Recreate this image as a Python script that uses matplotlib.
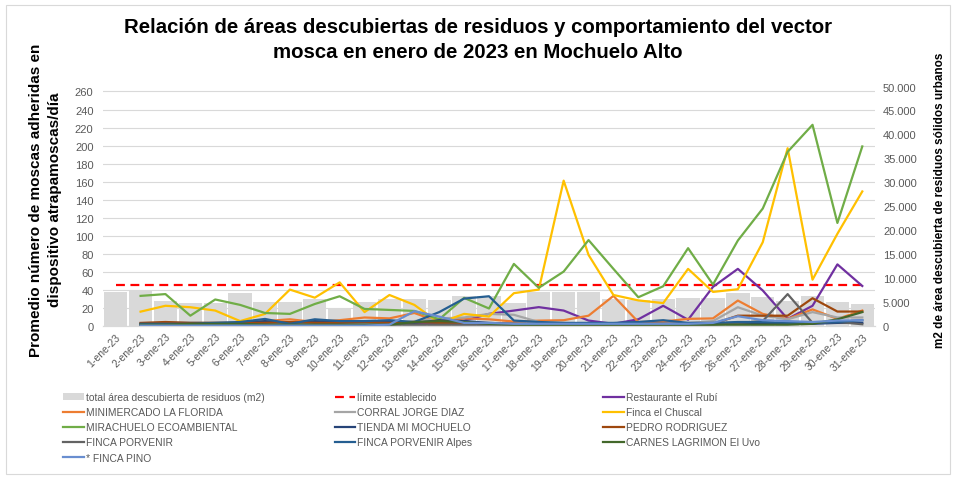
import numpy as np
import matplotlib
matplotlib.use("Agg")
import matplotlib.pyplot as plt
from matplotlib.ticker import FuncFormatter
from matplotlib.patches import Rectangle

plt.rcParams['font.family'] = ['Liberation Sans Narrow', 'Liberation Sans', 'DejaVu Sans']

nan = np.nan
dias = ['%d-ene-23' % d for d in range(1, 32)]

# m2 de area descubierta (eje derecho)
area_total = [7110, 7320, 5230, 4750, 4750, 6780, 5020, 5020, 5520, 3640, 5020,
              5520, 5580, 5450, 6100, 6150, 4800, 7110, 7110, 7110, 5500, 5300,
              5580, 5850, 5860, 6840, 5940, 5230, 6280, 4900, 4540]
limite = [45] * 31

rubi = [nan, 1, 1, 1, 1, 1, 1, 2, 2, 2, 2, 2, 2, 3, 5.5, 13, 16.7, 20.5, 16.7,
        5.6, 2, 7, 22, 6.5, 43, 63, 39, 7.4, 22, 68, 44]
minimercado = [nan, 2, 3, 2, 2, 3, 5, 7, 4, 6, 9, 8, 14, 4, 8, 7, 4.5, 5.5, 6,
               11, 33, 4, 4.5, 7.5, 8, 27.8, 13, 7.4, 18, 7.4, 16.7]
corral = [nan, 2, 2, 2, 1, 1, 2, 3, 2, 2, 3, 2, 5, 8, 9, 13, 12, 4, 3, 2, 2, 2,
          2, 3, 5, 20.4, 11, 7, 15, 9, 9]
chuscal = [nan, 15.5, 22, 20.4, 16.7, 5, 13, 40, 31, 48, 15, 34, 23, 3, 13, 10,
           36, 40, 161, 78.5, 34, 28, 25, 63, 37.4, 40.4, 92.6, 197, 51, 102, 149]
mirachuelo = [nan, 33, 35, 11, 29, 23, 14, 13, 24, 32.6, 18.5, 17.4, 16.3, 7,
              30.8, 19, 68.5, 42, 60, 95, 63, 31.5, 43.7, 86, 45.6, 94.5, 130,
              193, 223, 114, 199]
tienda = [nan, 2, 3, 3, 3, 3, 5, 3, 5, 4, 5, 4, 3, 6, 5, 3, 2, 2, 2, 2, 2, 2, 2,
          2, 2, 3, 3, 2, 2, 3, 3]
pedro = [nan, 3, 4, 3, 3, 3, 3, 4, 3, 3, 4, 3, 4, 3, 2, 2, 2, 2, 2, 2, 2, 2, 2,
         2, 2, 11, 11, 11, 30.4, 15.6, 15.6]
porvenir = [nan, 1, 1, 1, 1, 1, 1, 1, 1, 1, 1, 1, 1, 1, 1, 1, 1, 1, 1, 1, 1, 1,
            1, 1, 1, 3, 5, 35, 3, 4, 1.5]
porvenir_alpes = [nan, 2, 2, 2, 3, 4, 7.4, 2, 7, 5, 5, 6, 4, 15, 30, 32.6, 5.6,
                  4, 3, 3, 3, 4, 6, 3, 3, 4, 4, 3, 3, 4, 6]
carnes = [nan, 1, 1, 2, 2, 2, 1, 1, 1, 1, 1, 1, 4, 5, 4, 2, 1, 1, 1, 1, 1, 1, 1,
          1, 1, 1, 1, 1, 2, 7, 15]
pino = [nan, 0, 0, 0, 0, 0, 0, 0, 0, 0, 0, 1, 16, 10, 3, 3, 2, 2, 2, 2, 2, 2, 2,
        2, 3, 10.4, 6, 5, 4, 5.6, 6]

series = [
    ('Restaurante el Rubí', rubi, '#7030A0'),
    ('MINIMERCADO LA FLORIDA', minimercado, '#ED7D31'),
    ('CORRAL JORGE DIAZ', corral, '#A5A5A5'),
    ('Finca el Chuscal', chuscal, '#FFC000'),
    ('MIRACHUELO ECOAMBIENTAL', mirachuelo, '#70AD47'),
    ('TIENDA MI MOCHUELO', tienda, '#264478'),
    ('PEDRO RODRIGUEZ', pedro, '#9E480E'),
    ('FINCA PORVENIR', porvenir, '#636363'),
    ('FINCA PORVENIR Alpes', porvenir_alpes, '#255E91'),
    ('CARNES LAGRIMON El Uvo', carnes, '#43682B'),
    ('* FINCA PINO', pino, '#698ED0'),
]

fig = plt.figure(figsize=(9.56, 4.81), dpi=100)
fig.patches.append(Rectangle((0.006, 0.012), 0.988, 0.976, transform=fig.transFigure,
                             fill=False, edgecolor='#d9d9d9', lw=0.8))
ax = fig.add_axes([0.108, 0.321, 0.807, 0.497])
ax2 = ax.twinx()
x = np.arange(len(dias))

barras = ax2.bar(x, area_total, width=0.94, color='#d9d9d9',
                 label='total área descubierta de residuos (m2)')
ax2.set_ylim(0, 50000)
ax2.set_yticks(np.arange(0, 50001, 5000))
ax2.yaxis.set_major_formatter(FuncFormatter(lambda v, p: f"{int(v):,}".replace(",", ".")))

ax.set_zorder(ax2.get_zorder() + 1)
ax.patch.set_visible(False)

lim, = ax.plot(x, limite, color='#FF0000', lw=1.6, dashes=(4, 2.5), label='límite establecido')
handles = {}
for nombre, vals, col in series:
    l, = ax.plot(x, vals, color=col, lw=1.6, label=nombre)
    handles[nombre] = l

ax.set_ylim(0, 265.5)
ax.set_yticks(np.arange(0, 261, 20))
ax.set_xlim(-0.5, 30.5)
ax.set_xticks(x)
ax.set_xticklabels(dias, rotation=45, ha='right', rotation_mode='anchor')
ax.grid(axis='y', color='#d9d9d9', lw=0.8)
ax.set_axisbelow(True)

for a in (ax, ax2):
    for s in ('top', 'left', 'right'):
        a.spines[s].set_visible(False)
    a.spines['bottom'].set_color('#d9d9d9')
    a.tick_params(length=0, colors='#595959', labelsize=8)
ax.tick_params(axis='x', labelsize=7.5, pad=4)
ax.tick_params(axis='y', pad=7)
ax2.tick_params(axis='y', pad=6)

ax.set_ylabel('Promedio número de moscas adheridas en\ndispositivo atrapamoscas/día',
              fontsize=11, fontweight='bold', linespacing=1.45)
ax.yaxis.set_label_coords(-0.053, 0.53)
ax2.set_ylabel('m2 de área descubierta de residuos sólidos urbanos',
               fontsize=8.5, fontweight='bold')
ax2.yaxis.set_label_coords(1.077, 0.53)

fig.text(0.5, 0.916, 'Relación de áreas descubiertas de residuos y comportamiento del vector\n'
         'mosca en enero de 2023 en Mochuelo Alto', ha='center', va='center',
         fontsize=14.7, fontweight='bold', linespacing=1.4)

columnas = [
    [barras, handles['MINIMERCADO LA FLORIDA'], handles['MIRACHUELO ECOAMBIENTAL'],
     handles['FINCA PORVENIR'], handles['* FINCA PINO']],
    [lim, handles['CORRAL JORGE DIAZ'], handles['TIENDA MI MOCHUELO'],
     handles['FINCA PORVENIR Alpes']],
    [handles['Restaurante el Rubí'], handles['Finca el Chuscal'],
     handles['PEDRO RODRIGUEZ'], handles['CARNES LAGRIMON El Uvo']],
]
for xpos, hs in zip([0.066, 0.350, 0.631], columnas):
    leg = fig.legend(hs, [h.get_label() for h in hs], loc='upper left',
                     bbox_to_anchor=(xpos, 0.183), frameon=False, fontsize=7.4,
                     handlelength=2.0, handleheight=0.6, handletextpad=0.2,
                     labelspacing=0.5, borderpad=0, borderaxespad=0)
    for t in leg.get_texts():
        t.set_color('#595959')

fig.savefig('out.png', dpi=100)
